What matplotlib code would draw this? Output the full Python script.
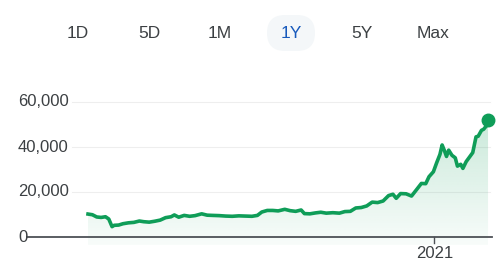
import numpy as np
import pandas as pd
import matplotlib
matplotlib.use("Agg")
import matplotlib.pyplot as plt
import matplotlib.dates as mdates
import matplotlib.transforms as mtransforms
from matplotlib.patches import Polygon, FancyBboxPatch

plt.rcParams['font.family'] = ['Liberation Sans', 'DejaVu Sans']

# botoes do seletor de periodo
botoes = ['1D', '5D', '1M', '1Y', '5Y', 'Max']
botao_ativo = '1Y'

# serie de precos
datas = [
    '2020-02-19', '2020-02-23', '2020-02-27', '2020-03-02', '2020-03-06', '2020-03-09',
    '2020-03-12', '2020-03-14', '2020-03-18', '2020-03-22', '2020-03-27', '2020-04-01',
    '2020-04-06', '2020-04-10', '2020-04-15', '2020-04-20', '2020-04-25', '2020-04-30',
    '2020-05-05', '2020-05-08', '2020-05-12', '2020-05-17', '2020-05-22', '2020-05-27',
    '2020-06-02', '2020-06-07', '2020-06-12', '2020-06-18', '2020-06-24', '2020-06-30',
    '2020-07-06', '2020-07-12', '2020-07-18', '2020-07-23', '2020-07-27', '2020-08-01',
    '2020-08-06', '2020-08-11', '2020-08-17', '2020-08-22', '2020-08-27', '2020-09-01',
    '2020-09-04', '2020-09-09', '2020-09-14', '2020-09-19', '2020-09-24', '2020-09-30',
    '2020-10-06', '2020-10-11', '2020-10-16', '2020-10-21', '2020-10-26', '2020-10-31',
    '2020-11-05', '2020-11-10', '2020-11-15', '2020-11-20', '2020-11-24', '2020-11-27',
    '2020-12-01', '2020-12-06', '2020-12-11', '2020-12-16', '2020-12-20', '2020-12-24',
    '2020-12-27', '2020-12-31', '2021-01-03', '2021-01-06', '2021-01-08', '2021-01-10',
    '2021-01-12', '2021-01-14', '2021-01-17', '2021-01-20', '2021-01-22', '2021-01-25',
    '2021-01-27', '2021-01-30', '2021-02-02', '2021-02-05', '2021-02-08', '2021-02-10',
    '2021-02-13', '2021-02-15', '2021-02-17', '2021-02-19',
]
precos = [
    10200, 9900, 8900, 8700, 9000, 8000,
    4600, 5200, 5300, 5900, 6300, 6500,
    7100, 6800, 6600, 7000, 7500, 8600,
    9000, 9800, 8800, 9600, 9200, 9500,
    10300, 9700, 9600, 9500, 9300, 9200,
    9400, 9300, 9200, 9600, 11100, 11800,
    11800, 11600, 12300, 11700, 11400, 12000,
    10400, 10300, 10700, 11000, 10600, 10800,
    10600, 11300, 11400, 12900, 13100, 13800,
    15500, 15300, 16000, 18400, 19000, 17200,
    19300, 19200, 18200, 21300, 23800, 23700,
    26800, 29000, 33000, 36700, 40900, 38500,
    35800, 38600, 36300, 35200, 31500, 32300,
    30500, 33500, 35500, 37500, 44500, 44800,
    47400, 47900, 49100, 52000,
]

yticks = [0, 20000, 40000, 60000]
ytick_labels = ['0', '20,000', '40,000', '60,000']
xtick_data = '2021-01-01'
xtick_label = '2021'

verde = '#0f9d58'
cinza_texto = '#3c4043'

fig = plt.figure(figsize=(5, 2.72), dpi=100)
ax = fig.add_axes([0, 0, 1, 1])
ax.set_axis_off()

x = mdates.date2num(pd.to_datetime(datas))
y = np.array(precos, dtype=float)

# escala: inicio da serie em 88 px, ~1.093 px por dia; zero em 237 px, 45 px por 20.000
px_dia = 1.093
x_esq = x[0] - 88 / px_dia
x_dir = x[0] + (500 - 88) / px_dia
v_px = 20000 / 45
y_base = -(272 - 237) * v_px
y_topo = 237 * v_px

# preenchimento em degrade abaixo da linha
fundo = -8 * v_px
gradiente = np.zeros((256, 1, 4))
gradiente[:, 0, 0:3] = matplotlib.colors.to_rgb(verde)
gradiente[:, 0, 3] = np.linspace(0.03, 0.22, 256)
im = ax.imshow(gradiente, extent=[x[0], x[-1], fundo, y.max()], origin='lower',
               aspect='auto', interpolation='bilinear', zorder=1)
poligono = Polygon(np.column_stack([np.r_[x, x[-1], x[0]], np.r_[y, fundo, fundo]]),
                   closed=True, facecolor='none', edgecolor='none')
ax.add_patch(poligono)
im.set_clip_path(poligono)

# grade e eixo
trans = mtransforms.blended_transform_factory(ax.transAxes, ax.transData)
for v, rotulo in zip(yticks, ytick_labels):
    if v == 0:
        ax.axhline(v, xmin=27 / 500, xmax=492 / 500, color='#4d5156', lw=1.3, zorder=2)
    else:
        ax.axhline(v, xmin=72 / 500, xmax=490 / 500, color='#eeeeee', lw=0.8, zorder=0)
    ax.text(18 / 500, v, rotulo, transform=trans, ha='left', va='center',
            fontsize=12, color=cinza_texto)

x21 = mdates.date2num(pd.Timestamp(xtick_data))
ax.plot([x21, x21], [0, -6 * v_px], color='#4d5156', lw=1, zorder=2)
ax.text(x21, -16 * v_px, xtick_label, ha='center', va='center', fontsize=12, color=cinza_texto)

# linha de preco e ponto final
ax.plot(x, y, color=verde, lw=2.6, solid_joinstyle='round', zorder=3)
ax.plot(x[-1], y[-1], 'o', ms=9, color=verde, zorder=4)

ax.set_xlim(x_esq, x_dir)
ax.set_ylim(y_base, y_topo)

# seletor de periodo no topo
for i, b in enumerate(botoes):
    cx = 78 + i * 71
    if b == botao_ativo:
        fundo_botao = FancyBboxPatch((cx - 24, 272 - 51), 48, 36,
                                     boxstyle='round,pad=0,rounding_size=18',
                                     transform=mtransforms.IdentityTransform(),
                                     facecolor='#f4f7f9', edgecolor='none')
        fig.add_artist(fundo_botao)
        cor = '#185abc'
    else:
        cor = cinza_texto
    fig.text(cx / 500, 1 - 33 / 272, b, ha='center', va='center', fontsize=12.5, color=cor)

fig.savefig('out.png', dpi=100)
